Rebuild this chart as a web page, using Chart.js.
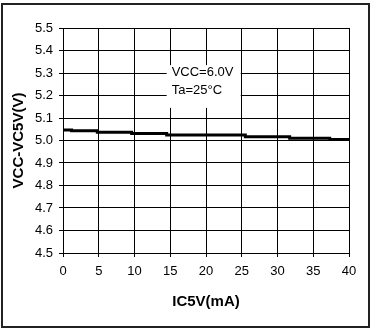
<!DOCTYPE html>
<html>
<head>
<meta charset="utf-8">
<script src="https://cdn.jsdelivr.net/npm/chart.js@4/dist/chart.umd.min.js"></script>
<style>
  html, body { margin: 0; padding: 0; background: #fff; }
  canvas { display: block; }
</style>
</head>
<body>
<canvas id="regChart" width="374" height="331"></canvas>
<script>
// IC5V load current (mA) where the output level steps, and the VCC-VC5V drop (V)
const currentMA = [0, 1.2, 4.8, 9.6, 14.5, 25.5, 31.7, 37.3, 40];
const dropV = [5.047, 5.043, 5.037, 5.031, 5.025, 5.017, 5.010, 5.004, 5.002];

const xTitle = "IC5V(mA)";
const yTitle = "VCC-VC5V(V)";
const noteLines = ["VCC=6.0V", "Ta=25\u00B0C"];

const FONT = "'Liberation Sans', Arial, sans-serif";

// white box with the test conditions, sitting over the grid
const noteBox = {
  id: "noteBox",
  beforeDatasetsDraw(chart) {
    const { ctx, scales } = chart;
    const x0 = scales.x.getPixelForValue(14.5);
    const x1 = scales.x.getPixelForValue(25) - 1;
    const y0 = scales.y.getPixelForValue(5.335);
    const y1 = scales.y.getPixelForValue(5.145);
    ctx.save();
    ctx.fillStyle = "#fff";
    ctx.fillRect(x0, y0, x1 - x0, y1 - y0);
    ctx.fillStyle = "#000";
    ctx.font = "13px " + FONT;
    ctx.textBaseline = "middle";
    noteLines.forEach((t, i) => ctx.fillText(t, x0 + 5, y0 + 7 + i * 18));
    ctx.restore();
  },
  afterDraw(chart) {
    const ctx = chart.ctx;
    ctx.save();
    ctx.strokeStyle = "#222";
    ctx.lineWidth = 2;
    ctx.strokeRect(2, 4, 367, 323);
    ctx.restore();
  },
};

new Chart(document.getElementById("regChart"), {
  type: "line",
  data: {
    datasets: [
      {
        data: currentMA.map((x, i) => ({ x, y: dropV[i] })),
        borderColor: "#000",
        borderWidth: 3,
        pointRadius: 0,
        stepped: true,
        fill: false,
      },
    ],
  },
  options: {
    responsive: false,
    animation: false,
    layout: { padding: { top: 28, right: 25, bottom: 0, left: 0 } },
    plugins: { legend: { display: false }, tooltip: { enabled: false } },
    scales: {
      x: {
        type: "linear",
        min: 0,
        max: 40,
        afterFit: s => { s.height = 78; },
        ticks: { stepSize: 5, color: "#000", padding: 7, font: { family: FONT, size: 13 } },
        grid: { color: "#000", lineWidth: 1, tickLength: 4 },
        border: { color: "#000", width: 1 },
        title: {
          display: true,
          text: xTitle,
          color: "#000",
          font: { family: FONT, size: 15, weight: "bold" },
          padding: { top: 0, bottom: 20 },
        },
      },
      y: {
        min: 4.5,
        max: 5.5,
        afterFit: s => { s.width = 63; },
        ticks: {
          stepSize: 0.1,
          color: "#000",
          padding: 6,
          font: { family: FONT, size: 13 },
          callback: v => v.toFixed(1),
        },
        grid: { color: "#000", lineWidth: 1, tickLength: 4 },
        border: { color: "#000", width: 1 },
        title: {
          display: true,
          text: yTitle,
          color: "#000",
          font: { family: FONT, size: 15, weight: "bold" },
          padding: { top: 10, bottom: 0 },
        },
      },
    },
  },
  plugins: [noteBox],
});
</script>
</body>
</html>
